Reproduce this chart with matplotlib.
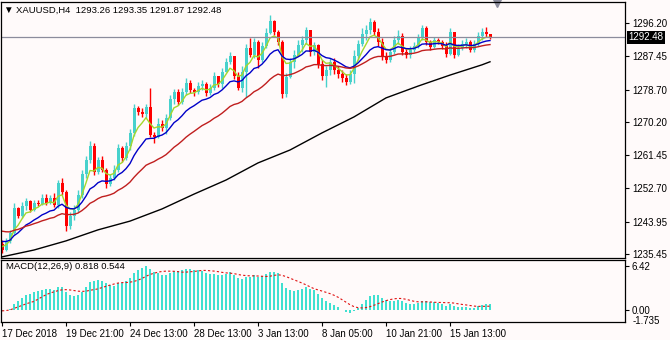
import numpy as np
import pandas as pd
import matplotlib
matplotlib.use("Agg")
import matplotlib.pyplot as plt
import matplotlib.transforms as mtransforms

plt.rcParams["font.family"] = ["Liberation Sans", "DejaVu Sans"]

# XAUUSD H4 candles (open of each bar = previous close)
open0 = 1238.1
closes = [
    1236.5, 1238.9, 1241.0, 1247.5, 1245.4, 1248.1, 1249.4, 1247.0, 1248.9, 1248.6,
    1250.2, 1248.9, 1250.2, 1248.3, 1254.1, 1251.8, 1242.8, 1245.4, 1247.0, 1251.0,
    1256.5, 1260.2, 1263.9, 1257.0, 1260.2, 1257.5, 1253.9, 1255.4, 1257.5, 1263.3,
    1260.7, 1263.9, 1267.3, 1273.8, 1272.8, 1272.3, 1274.1, 1266.7, 1266.2, 1269.6,
    1268.6, 1271.2, 1276.2, 1278.1, 1275.4, 1278.1, 1280.4, 1278.6, 1278.1, 1279.6,
    1280.2, 1277.8, 1279.1, 1282.3, 1280.2, 1283.3, 1285.9, 1287.5, 1282.3, 1279.1,
    1283.3, 1289.6, 1287.8, 1291.2, 1286.5, 1290.2, 1293.6, 1296.7, 1293.8, 1291.2,
    1277.5, 1282.0, 1285.9, 1287.8, 1290.4, 1291.7, 1294.4, 1288.6, 1290.4, 1285.4,
    1282.3, 1283.8, 1285.9, 1283.8, 1282.8, 1281.7, 1280.7, 1282.8, 1287.5, 1290.7,
    1293.3, 1294.4, 1296.5, 1293.8, 1291.2, 1287.5, 1286.5, 1288.6, 1291.7, 1292.8,
    1288.6, 1287.8, 1289.1, 1290.2, 1292.3, 1294.9, 1291.2, 1289.9, 1291.7, 1291.2,
    1290.2, 1288.0, 1293.8, 1287.8, 1289.6, 1290.7, 1291.2, 1289.1, 1290.7, 1292.8,
    1293.8, 1293.26, 1292.48]
highs = [
    1239.1, 1239.7, 1241.8, 1248.9, 1247.8, 1249.1, 1250.2, 1249.6, 1249.6, 1249.6,
    1251.2, 1251.2, 1251.0, 1251.5, 1254.9, 1255.4, 1252.3, 1246.5, 1248.3, 1252.3,
    1257.5, 1261.2, 1265.2, 1264.6, 1261.0, 1261.2, 1258.1, 1256.5, 1258.9, 1264.4,
    1263.9, 1264.9, 1268.3, 1274.9, 1274.4, 1273.8, 1274.9, 1279.1, 1267.5, 1271.2,
    1270.7, 1272.3, 1277.3, 1278.8, 1278.8, 1279.1, 1281.7, 1281.2, 1279.1, 1280.7,
    1281.2, 1280.7, 1280.2, 1283.3, 1282.3, 1284.4, 1287.0, 1288.6, 1287.5, 1283.3,
    1284.9, 1290.7, 1292.3, 1292.3, 1291.7, 1291.2, 1294.9, 1298.3, 1297.0, 1294.4,
    1291.7, 1283.0, 1287.0, 1289.1, 1291.7, 1292.8, 1295.1, 1294.4, 1291.2, 1290.7,
    1286.5, 1284.9, 1287.0, 1287.0, 1284.9, 1283.8, 1282.8, 1283.8, 1289.1, 1291.7,
    1294.9, 1295.7, 1297.5, 1297.0, 1294.9, 1292.3, 1288.6, 1289.6, 1292.8, 1294.4,
    1293.6, 1289.6, 1290.2, 1291.2, 1293.3, 1295.7, 1295.4, 1291.7, 1292.5, 1292.3,
    1291.7, 1291.2, 1294.9, 1293.8, 1290.7, 1291.7, 1292.3, 1291.7, 1291.7, 1293.8,
    1294.9, 1295.1, 1293.35]
lows = [
    1235.7, 1236.2, 1238.3, 1240.6, 1244.9, 1244.9, 1247.0, 1246.5, 1246.8, 1248.1,
    1248.3, 1248.3, 1248.6, 1247.8, 1247.5, 1251.0, 1241.5, 1242.0, 1244.4, 1246.5,
    1250.2, 1255.4, 1259.4, 1256.2, 1256.5, 1257.0, 1252.8, 1253.3, 1254.9, 1257.0,
    1259.6, 1260.2, 1262.8, 1266.5, 1272.0, 1271.5, 1271.2, 1266.2, 1264.6, 1265.9,
    1267.8, 1267.0, 1270.7, 1274.9, 1274.6, 1274.9, 1277.3, 1277.8, 1277.0, 1277.5,
    1278.6, 1277.0, 1277.3, 1278.6, 1279.4, 1279.1, 1283.3, 1285.4, 1281.5, 1278.6,
    1278.1, 1276.7, 1287.3, 1287.0, 1284.4, 1285.9, 1289.6, 1293.3, 1293.0, 1290.4,
    1276.5, 1276.7, 1281.7, 1284.4, 1287.5, 1288.6, 1290.7, 1287.5, 1287.8, 1284.4,
    1281.2, 1279.4, 1282.5, 1282.8, 1281.7, 1280.7, 1279.9, 1280.2, 1280.4, 1286.5,
    1290.2, 1291.7, 1293.3, 1293.0, 1290.2, 1286.5, 1285.7, 1285.9, 1288.0, 1290.7,
    1287.8, 1287.0, 1287.0, 1288.6, 1289.6, 1291.7, 1290.4, 1289.1, 1289.6, 1290.7,
    1289.4, 1287.3, 1287.8, 1287.0, 1287.5, 1289.1, 1289.6, 1288.6, 1288.6, 1290.2,
    1291.7, 1292.5, 1291.87]

# moving averages: (period, value at the first bar)
ma_fast = (5, 1237.8)
ma_mid = (13, 1239.1)
ma_slow = (30, 1241.8)
# long moving average, read every 8th bar
ma_long_bars = [0, 8, 16, 24, 32, 40, 48, 56, 64, 72, 80, 88, 96, 104, 112, 120, 122]
ma_long = [1234.7, 1236.5, 1238.9, 1241.8, 1244.1, 1247.3, 1251.2, 1254.9, 1259.4,
           1262.8, 1267.3, 1271.5, 1276.5, 1279.6, 1282.5, 1285.2, 1286.0]

price_ticks = [1296.20, 1287.45, 1278.70, 1270.20, 1261.45, 1252.70, 1243.95, 1235.45]
time_labels = ["17 Dec 2018", "19 Dec 21:00", "24 Dec 13:00", "28 Dec 13:00",
               "3 Jan 13:00", "8 Jan 05:00", "10 Jan 21:00", "15 Jan 13:00"]
time_label_bars = [0, 16, 32, 48, 64, 80, 96, 112]
last_price = 1292.48


def ema(values, period, start):
    s = pd.Series([start] + list(values))
    return s.ewm(span=period, adjust=False).mean().values[1:]


c = np.array(closes)
o = np.array([open0] + closes[:-1])
h = np.maximum(np.array(highs), np.maximum(o, c))
l = np.minimum(np.array(lows), np.minimum(o, c))
x = np.arange(len(c))
up = c >= o

# MACD(12,26,9): main = EMA12 - EMA26, signal = SMA9 of main
macd = ema(c, 12, open0) - ema(c, 26, open0)
signal = pd.Series(macd).rolling(9, min_periods=1).mean().values

bg = "#fffafa"
bull = "#48d1cc"
bear = "#ff0000"

fig = plt.figure(figsize=(6.7, 3.4), dpi=100, facecolor=bg)
ax = fig.add_axes([1 / 670, 82 / 340, 624 / 670, 256 / 340], facecolor=bg)
ax2 = fig.add_axes([1 / 670, 18 / 340, 624 / 670, 62 / 340], facecolor=bg)

xmin = -0.25
for a in (ax, ax2):
    a.set_xlim(xmin, xmin + 156)
    for sp in a.spines.values():
        sp.set_linewidth(0.9)
        sp.set_color("black")

# candles
cols = np.where(up, bull, bear)
ax.vlines(x, l, h, colors=cols, linewidth=1)
body = np.maximum(np.abs(c - o), 0.2)
ax.bar(x, body, bottom=np.minimum(o, c), width=0.75, color=cols, linewidth=0)

# moving averages
ax.plot(x, ema(c, *ma_fast), color="#a4d82c", lw=1)
ax.plot(x, ema(c, *ma_mid), color="#0000c8", lw=1)
ax.plot(x, ema(c, *ma_slow), color="#c01e1e", lw=1)
ax.plot(ma_long_bars, ma_long, color="black", lw=1)

ax.axhline(last_price, color="#8c8c9c", lw=0.9)
ax.set_ylim(1234.40, 1301.72)
ax.yaxis.tick_right()
ax.set_yticks(price_ticks)
ax.set_yticklabels(["%.2f" % p for p in price_ticks])
ax.tick_params(axis="y", direction="out", length=3, width=0.8, pad=2, labelsize=7)
ax.set_xticks([])

trans = mtransforms.blended_transform_factory(ax.transAxes, ax.transData)
ax.text(1.006, last_price, "%.2f" % last_price, transform=trans, ha="left", va="center",
        fontsize=7, color="white",
        bbox=dict(facecolor="black", edgecolor="none", boxstyle="square,pad=0.15"))

# shift marker at the top
ax.plot([0.795], [0.997], marker="v", markersize=6, color="#8c8c9c",
        transform=ax.transAxes, clip_on=False)

fig.text(3 / 670, 1 - 10 / 340, "▼", fontsize=7, va="center", ha="left")
fig.text(16 / 670, 1 - 10 / 340, "XAUUSD,H4  1293.26 1293.35 1291.87 1292.48",
         fontsize=6.8, va="center", ha="left")

# MACD panel
ax2.bar(x, macd, width=0.35, color="#40e0d0", linewidth=0)
ax2.plot(x, signal, color="#e01010", lw=0.8, ls=(0, (2, 2)))
ax2.set_ylim(-1.75, 7.30)
ax2.yaxis.tick_right()
ax2.set_yticks([6.42, 0.0])
ax2.set_yticklabels(["6.42", "0.00"])
ax2.tick_params(axis="y", direction="out", length=3, width=0.8, pad=2, labelsize=7)
ax2.text(1.012, -1.55, "-1.735", transform=mtransforms.blended_transform_factory(
    ax2.transAxes, ax2.transData), fontsize=7, ha="left", va="center")
ax2.text(5 / 624, 0.9, "MACD(12,26,9) %.3f %.3f" % (0.818, 0.544),
         transform=ax2.transAxes, fontsize=6.8, ha="left", va="center")

ax2.set_xticks(time_label_bars)
ax2.set_xticklabels(time_labels, ha="left")
ax2.tick_params(axis="x", direction="out", length=3, width=0.8, pad=2, labelsize=7)

fig.savefig("out.png", dpi=100, facecolor=bg)
